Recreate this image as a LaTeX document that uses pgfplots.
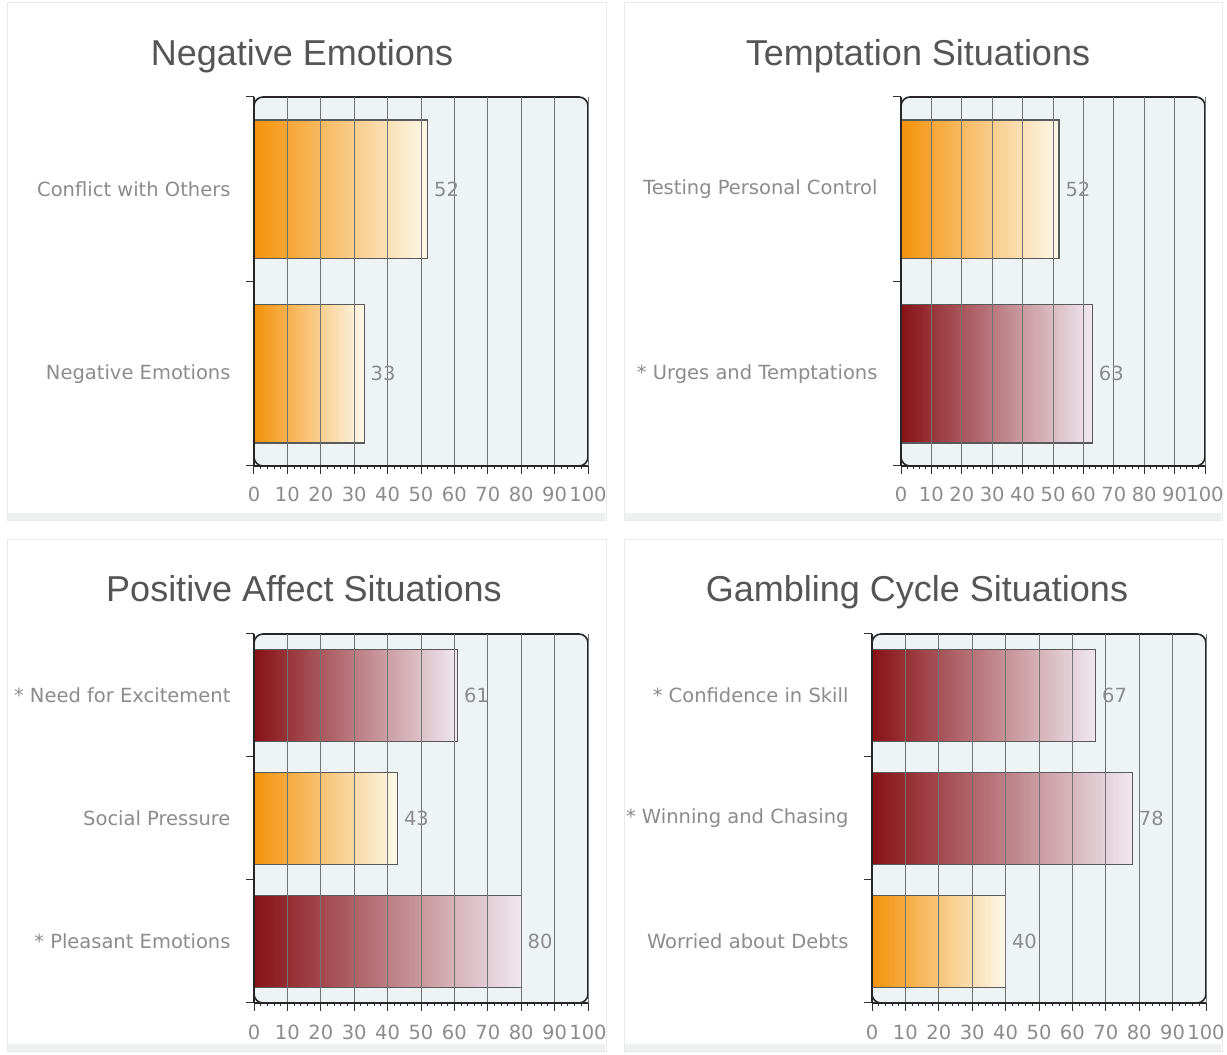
\documentclass[border=0pt]{standalone}
\usepackage{pgfplots}
\pgfplotsset{compat=1.18}
\usepackage{fontspec}
\setmainfont{DejaVu Sans}
\newfontfamily\titlefont{Liberation Sans}
\definecolor{bgc}{RGB}{238,244,246}
\definecolor{lbl}{RGB}{140,140,140}
\definecolor{ttl}{RGB}{85,85,85}
\definecolor{orA}{RGB}{244,146,10}
\definecolor{orM}{RGB}{248,190,90}
\definecolor{orB}{RGB}{252,248,234}
\definecolor{rdA}{RGB}{135,18,22}
\definecolor{rdM}{RGB}{185,95,105}
\definecolor{rdB}{RGB}{240,232,240}
\definecolor{cardb}{RGB}{232,234,234}
\definecolor{strip}{RGB}{238,241,240}
\pgfplotsset{
  panel/.style={
    scale only axis, anchor=south west,
    xmin=0, xmax=100, ymin=0,
    xbar, point meta=x,
    xtick={0,10,...,100}, minor x tick num=4,
    axis lines*=left,
    axis on top,
    tick align=outside,
    major tick length=8pt, minor tick length=3.5pt,
    xmajorgrids,
    grid style={draw=black!55, line width=0.8pt},
    axis line style={draw=black!85, line width=1.6pt},
    tick style={draw=black!80, line width=1pt},
    axis background/.style={fill=bgc, draw=black!85, line width=1.6pt, rounded corners=9pt},
    ticklabel style={font=\fontsize{19.5}{22}\selectfont, text=lbl},
    /pgf/number format/assume math mode=true,
    xticklabel style={yshift=-10pt},
    yticklabel style={xshift=-12pt},
    clip=false,
    nodes near coords,
    nodes near coords style={font=\fontsize{19.5}{22}\selectfont, text=lbl, anchor=west, xshift=2.5pt},
    every axis plot/.append style={xbar, bar shift=0pt, bar width=0.75, draw=black!65, line width=1.2pt},
  },
  orbar/.style={left color=orA, middle color=orM, right color=orB},
  rdbar/.style={left color=rdA, middle color=rdM, right color=rdB},
}
\begin{document}
\begin{tikzpicture}[x=1pt,y=1pt]
\fill[white] (0,0) rectangle (1227,1055);
% cards
\foreach \cx/\cy/\cw/\ch in {7/534/599/518, 624/534/598/518, 7/3/599/512, 624/3/598/512}{
  \draw[cardb, fill=white, line width=1pt] (\cx,\cy) rectangle ++(\cw,\ch);
  \fill[strip] (\cx+1,\cy+1) rectangle ++(\cw-2,7);
}
% titles
\node[text=ttl, anchor=base, font=\titlefont\fontsize{36}{40}\selectfont] at (302,989) {Negative Emotions};
\node[text=ttl, anchor=base, font=\titlefont\fontsize{36}{40}\selectfont] at (918,989) {Temptation Situations};
\node[text=ttl, anchor=base, font=\titlefont\fontsize{36}{40}\selectfont] at (304,453) {Positive Affect Situations};
\node[text=ttl, anchor=base, font=\titlefont\fontsize{36}{40}\selectfont] at (917,453) {Gambling Cycle Situations};

% Panel 1
\begin{axis}[panel, at={(254pt,589pt)}, width=334pt, height=369pt, ymax=2,
  ytick={0,1,2}, yticklabels={Negative Emotions,Conflict with Others,{}},
  yticklabel style={yshift=92pt}]
\addplot[orbar] coordinates {(52,1.5)};
\addplot[orbar] coordinates {(33,0.5)};
\end{axis}

% Panel 2
\begin{axis}[panel, at={(901pt,589pt)}, width=304pt, height=369pt, ymax=2,
  ytick={0,1,2}, yticklabels={* Urges and Temptations,Testing Personal Control,{}},
  yticklabel style={yshift=92pt}]
\addplot[orbar] coordinates {(52,1.5)};
\addplot[rdbar] coordinates {(63,0.5)};
\end{axis}

% Panel 3
\begin{axis}[panel, at={(254pt,52pt)}, width=334pt, height=369pt, ymax=3,
  ytick={0,1,2,3}, yticklabels={* Pleasant Emotions,Social Pressure,* Need for Excitement,{}},
  yticklabel style={yshift=61.5pt}]
\addplot[rdbar] coordinates {(61,2.5)};
\addplot[orbar] coordinates {(43,1.5)};
\addplot[rdbar] coordinates {(80,0.5)};
\end{axis}

% Panel 4
\begin{axis}[panel, at={(872pt,52pt)}, width=334pt, height=369pt, ymax=3,
  ytick={0,1,2,3}, yticklabels={Worried about Debts,* Winning and Chasing,* Confidence in Skill,{}},
  yticklabel style={yshift=61.5pt}]
\addplot[rdbar] coordinates {(67,2.5)};
\addplot[rdbar] coordinates {(78,1.5)};
\addplot[orbar] coordinates {(40,0.5)};
\end{axis}
\pgfresetboundingbox
\path (0,0) rectangle (1227,1055);
\end{tikzpicture}
\end{document}
